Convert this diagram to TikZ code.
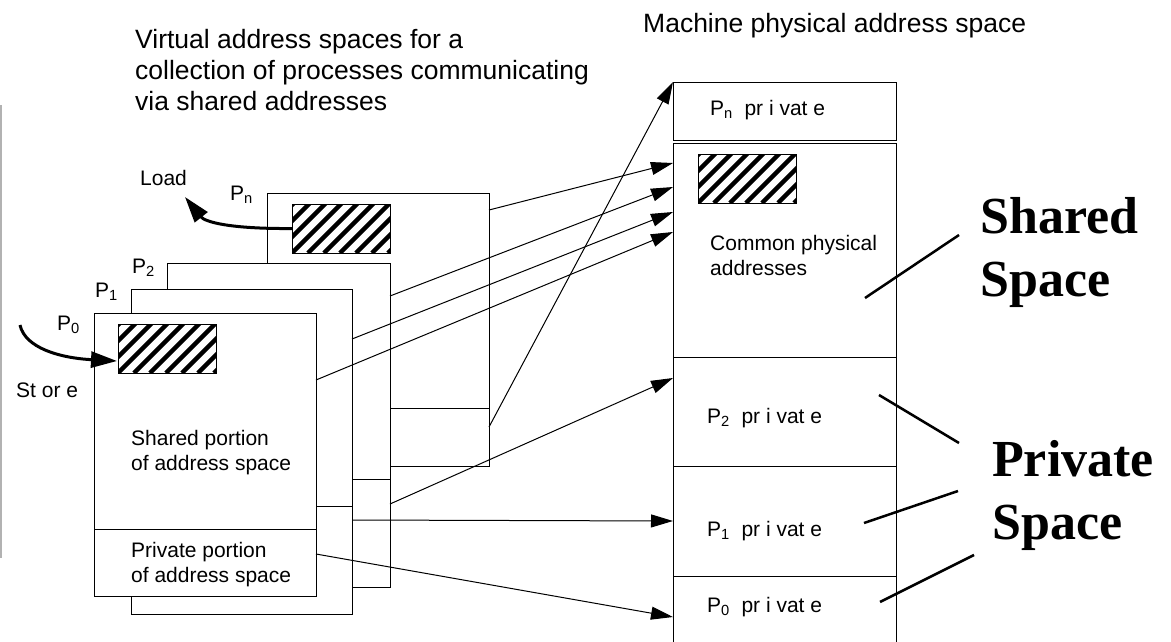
\documentclass[tikz,border=0pt]{standalone}
\usepackage{fontspec}
\setmainfont{Liberation Sans}
\newfontfamily\bigserif{Liberation Serif}
\usetikzlibrary{positioning,calc,arrows.meta}

\tikzset{
  vbox/.style={draw, fill=white, line width=1pt, inner sep=0pt, outer sep=0pt},
  hatch/.style={draw, fill=white, line width=1pt, inner sep=0pt, outer sep=0pt, anchor=north west,
    minimum width=98pt, minimum height=49pt,
    path picture={\foreach \k in {-64,-48,...,112}
      \draw[line width=4.5pt] ([xshift=\k pt]path picture bounding box.south west) -- ++(70,-70);}},
  toptxt/.style={font=\fontsize{26.5}{31}\selectfont, align=left, inner sep=0pt},
  boxtxt/.style={font=\fontsize{21}{25}\selectfont, align=left, inner sep=0pt},
  bigtxt/.style={font=\bigserif\bfseries\fontsize{52}{63}\selectfont, align=left, inner sep=0pt},
  conn/.style={line width=1pt, -{Triangle[length=22pt,width=13pt]}},
  bigarrow/.style={line width=3pt, -{Triangle[length=26pt,width=16pt]}},
  pointer/.style={line width=2.5pt}
}

\begin{document}
\begin{tikzpicture}[x=1pt, y=-1pt]
\useasboundingbox (0,0) rectangle (1171,641);

% titles
\node[toptxt, anchor=north west] (vtitle) at (135,29) {Virtual address spaces for a\\collection of processes communicating\\via shared addresses};
\node[toptxt, anchor=base west] (mtitle) at (643,32) {Machine physical address space};

% slide edge
\draw[gray!60, line width=1.5pt] (1,105) -- (1,558);

% virtual spaces, back to front
\node[vbox, anchor=north west, minimum width=222pt, minimum height=215pt] (pnsh) at (267,193) {};
\node[vbox, below=0pt of pnsh, minimum width=222pt, minimum height=58pt] (pnpr) {};
\node[hatch] (hn) at (292,204) {};
\node[boxtxt, anchor=base west] (lpn) at (230,200) {P\textsubscript{n}};

\node[vbox, anchor=north west, minimum width=223pt, minimum height=216pt] (p2sh) at (167,263) {};
\node[vbox, below=0pt of p2sh, minimum width=223pt, minimum height=108pt] (p2pr) {};
\node[boxtxt, anchor=base west] (lp2) at (132,273) {P\textsubscript{2}};

\node[vbox, anchor=north west, minimum width=221pt, minimum height=217pt] (p1sh) at (131,289) {};
\node[vbox, below=0pt of p1sh, minimum width=221pt, minimum height=108pt] (p1pr) {};
\node[boxtxt, anchor=base west] (lp1) at (95,297) {P\textsubscript{1}};

\node[vbox, anchor=north west, minimum width=222pt, minimum height=216pt] (p0sh) at (94,313) {};
\node[vbox, below=0pt of p0sh, minimum width=222pt, minimum height=67pt] (p0pr) {};
\node[hatch] (h0) at (118,324) {};
\node[boxtxt, anchor=base west] (lp0) at (57,330) {P\textsubscript{0}};
\node[boxtxt, anchor=north west] (shtxt) at (131,430) {Shared portion\\of address space};
\node[boxtxt, anchor=north west] (prtxt) at (131,542) {Private portion\\of address space};

% load and store
\node[boxtxt, anchor=base west] (load) at (140,185) {Load};
\node[boxtxt, anchor=base west] (store) at (16,397) {St or e};
\coordinate (loadend) at (185,197);
\coordinate (storebeg) at (20,325);
\draw[bigarrow] (hn.west) .. controls (230,229) and (205,222) .. (loadend);
\draw[bigarrow] (storebeg) .. controls (25,348) and (60,358) .. ($(h0.south west)+(-1,-12)$);

% machine physical space
\node[vbox, anchor=north west, minimum width=223pt, minimum height=58pt] (pnpriv) at (673,82) {};
\node[vbox, anchor=north west, minimum width=223pt, minimum height=214pt] (common) at (673,143) {};
\node[vbox, below=0pt of common, minimum width=223pt, minimum height=109pt] (p2priv) {};
\node[vbox, below=0pt of p2priv, minimum width=223pt, minimum height=110pt] (p1priv) {};
\node[vbox, below=0pt of p1priv, minimum width=223pt, minimum height=80pt] (p0priv) {};
\node[hatch] (hc) at (698,154) {};
\node[boxtxt, anchor=base west] at (710,115) {P\textsubscript{n}\ \ pr i vat e};
\node[boxtxt, anchor=north west] at (710,235) {Common physical\\addresses};
\node[boxtxt, anchor=base west] at (707,423) {P\textsubscript{2}\ \ pr i vat e};
\node[boxtxt, anchor=base west] at (707,536) {P\textsubscript{1}\ \ pr i vat e};
\node[boxtxt, anchor=base west] at (707,612) {P\textsubscript{0}\ \ pr i vat e};

% mappings
\draw[conn] ($(pnsh.north east)+(0,17)$) -- ($(common.north west)+(0,20)$);
\draw[conn] ($(pnpr.north east)+(0,19)$) -- (pnpriv.north west);
\draw[conn] ($(p2sh.north east)+(0,33)$) -- ($(common.north west)+(0,44)$);
\draw[conn] ($(p2pr.north east)+(0,25)$) -- ($(p2priv.north west)+(0,21)$);
\draw[conn] ($(p1sh.north east)+(0,50)$) -- ($(common.north west)+(0,69)$);
\draw[conn] ($(p1pr.north east)+(0,14)$) -- (p1priv.west);
\draw[conn] ($(p0sh.north east)+(0,67)$) -- ($(common.north west)+(0,89)$);
\draw[conn] ($(p0pr.north east)+(0,25)$) -- ($(p0priv.north west)+(0,41)$);

% shared / private labels
\node[bigtxt, anchor=north west] (shared) at (980,197) {Shared\\Space};
\node[bigtxt, anchor=north west] (private) at (992,440) {Private\\Space};
\coordinate (ps) at (865,298);
\coordinate (p2p) at (879,395);
\coordinate (p1p) at (864,523);
\coordinate (p0p) at (880,602);
\draw[pointer] (ps) -- (959,235);
\draw[pointer] (p2p) -- (959,443);
\draw[pointer] (p1p) -- (958,491);
\draw[pointer] (p0p) -- (974,555);
\end{tikzpicture}
\end{document}
